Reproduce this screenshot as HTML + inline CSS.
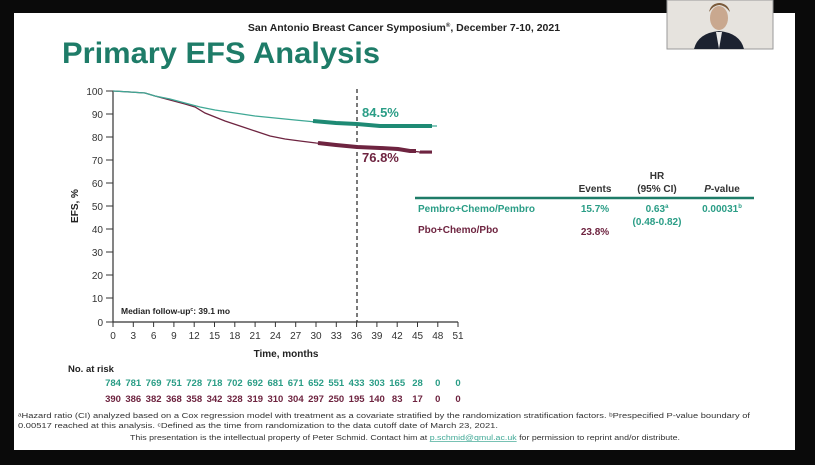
<!DOCTYPE html>
<html><head><meta charset="utf-8"><style>
body{margin:0;background:#000;width:815px;height:465px;overflow:hidden}
svg{display:block}
text{font-family:"Liberation Sans",Arial,sans-serif}
</style></head><body>
<svg width="815" height="465" viewBox="0 0 815 465">
<rect x="0" y="0" width="815" height="465" fill="#0a0a0a"/>
<rect x="14" y="13" width="781" height="437" fill="#fff"/>
<rect x="667" y="0" width="106" height="49" fill="#e6e3de" stroke="#999" stroke-width="1"/>
<ellipse cx="719" cy="18" rx="9" ry="12" fill="#c9a88f"/>
<path d="M709 12 q10 -14 21 0 q-2 -8 -10 -9 q-9 0 -11 9z" fill="#7a5a3a"/>
<path d="M694 49 q4 -16 25 -18 q21 2 25 18z" fill="#1c2230"/>
<path d="M716 32 l3 17 l3 -17z" fill="#e8e8e8"/>
<text x="404" y="31" font-size="10.5" font-weight="bold" text-anchor="middle" fill="#222">San Antonio Breast Cancer Symposium<tspan font-size="6" dy="-4">®</tspan><tspan dy="4">, December 7-10, 2021</tspan></text>
<text x="62" y="63" font-size="30" font-weight="bold" fill="#1e7c68" textLength="318" lengthAdjust="spacingAndGlyphs">Primary EFS Analysis</text>
<g stroke="#333" stroke-width="1.2" fill="none">
<line x1="113" y1="91" x2="113" y2="322"/>
<line x1="113" y1="322" x2="458" y2="322"/>
</g>
<g font-size="10" fill="#333" text-anchor="end">
<text x="103" y="95">100</text><text x="103" y="118">90</text><text x="103" y="141">80</text><text x="103" y="164">70</text><text x="103" y="187">60</text><text x="103" y="210">50</text><text x="103" y="233">40</text><text x="103" y="256">30</text><text x="103" y="279">20</text><text x="103" y="302">10</text><text x="103" y="326">0</text>
</g>
<g stroke="#333" stroke-width="1">
<line x1="106" y1="91" x2="113" y2="91"/><line x1="106" y1="114" x2="113" y2="114"/><line x1="106" y1="137" x2="113" y2="137"/><line x1="106" y1="160" x2="113" y2="160"/><line x1="106" y1="183" x2="113" y2="183"/><line x1="106" y1="206" x2="113" y2="206"/><line x1="106" y1="229" x2="113" y2="229"/><line x1="106" y1="252" x2="113" y2="252"/><line x1="106" y1="275" x2="113" y2="275"/><line x1="106" y1="298" x2="113" y2="298"/><line x1="106" y1="322" x2="113" y2="322"/>
</g>
<g stroke="#333" stroke-width="1">
<line x1="113" y1="322" x2="113" y2="327"/><line x1="133.3" y1="322" x2="133.3" y2="327"/><line x1="153.6" y1="322" x2="153.6" y2="327"/><line x1="173.9" y1="322" x2="173.9" y2="327"/><line x1="194.2" y1="322" x2="194.2" y2="327"/><line x1="214.5" y1="322" x2="214.5" y2="327"/><line x1="234.8" y1="322" x2="234.8" y2="327"/><line x1="255.1" y1="322" x2="255.1" y2="327"/><line x1="275.4" y1="322" x2="275.4" y2="327"/><line x1="295.7" y1="322" x2="295.7" y2="327"/><line x1="316" y1="322" x2="316" y2="327"/><line x1="336.3" y1="322" x2="336.3" y2="327"/><line x1="356.6" y1="322" x2="356.6" y2="327"/><line x1="376.9" y1="322" x2="376.9" y2="327"/><line x1="397.2" y1="322" x2="397.2" y2="327"/><line x1="417.5" y1="322" x2="417.5" y2="327"/><line x1="437.8" y1="322" x2="437.8" y2="327"/><line x1="458" y1="322" x2="458" y2="327"/>
</g>
<g font-size="10" fill="#333" text-anchor="middle">
<text x="113" y="339">0</text><text x="133.3" y="339">3</text><text x="153.6" y="339">6</text><text x="173.9" y="339">9</text><text x="194.2" y="339">12</text><text x="214.5" y="339">15</text><text x="234.8" y="339">18</text><text x="255.1" y="339">21</text><text x="275.4" y="339">24</text><text x="295.7" y="339">27</text><text x="316" y="339">30</text><text x="336.3" y="339">33</text><text x="356.6" y="339">36</text><text x="376.9" y="339">39</text><text x="397.2" y="339">42</text><text x="417.5" y="339">45</text><text x="437.8" y="339">48</text><text x="458" y="339">51</text>
</g>
<text x="286" y="357" font-size="10" font-weight="bold" text-anchor="middle" fill="#222">Time, months</text>
<text transform="translate(78 206) rotate(-90)" font-size="10" font-weight="bold" text-anchor="middle" fill="#222">EFS, %</text>
<line x1="357" y1="89" x2="357" y2="322" stroke="#222" stroke-width="1.2" stroke-dasharray="4,3"/>
<polyline fill="none" stroke="#6e2440" stroke-width="1.3" points="113,91 130,92 145,93 155,96 170,100 185,104 195,107 205,113 215,117 225,121 240,126 255,131 270,136 285,139 300,141 316,143 336,145 357,147 380,148 398,149 410,151 420,152 420,153 432,153"/>
<polyline fill="none" stroke="#6e2440" stroke-width="4" points="318,143 336,145 357,147 380,148 398,149 410,151 416,151"/>
<polyline fill="none" stroke="#6e2440" stroke-width="3" points="420,152 432,152"/>
<polyline fill="none" stroke="#3fa895" stroke-width="1.3" points="113,91 130,92 145,93 155,96 170,99 185,103 200,107 215,110 235,113 255,116 275,118 295,120 316,122 336,123 357,124 380,126 400,126 437,126"/>
<polyline fill="none" stroke="#1e8a74" stroke-width="4" points="313,121 336,123 357,124 380,126 400,126 432,126"/>
<text x="362" y="117" font-size="13" font-weight="bold" fill="#2a9d86">84.5%</text>
<text x="362" y="162" font-size="13" font-weight="bold" fill="#6e2440">76.8%</text>
<text x="121" y="314" font-size="8.5" font-weight="bold" fill="#222">Median follow-up<tspan font-size="5" dy="-3">c</tspan><tspan dy="3">: 39.1 mo</tspan></text>
<g font-size="10" font-weight="bold" text-anchor="middle" fill="#333">
<text x="595" y="192">Events</text>
<text x="657" y="179">HR</text>
<text x="657" y="192">(95% CI)</text>
<text x="722" y="192" font-style="italic">P<tspan font-style="normal">-value</tspan></text>
</g>
<line x1="415" y1="198" x2="754" y2="198" stroke="#1e7c68" stroke-width="2.5"/>
<g font-size="10" font-weight="bold" fill="#2a9d86">
<text x="418" y="212">Pembro+Chemo/Pembro</text>
<text x="595" y="212" text-anchor="middle">15.7%</text>
<text x="657" y="212" text-anchor="middle">0.63<tspan font-size="6" dy="-4">a</tspan></text>
<text x="657" y="225" text-anchor="middle">(0.48-0.82)</text>
<text x="722" y="212" text-anchor="middle">0.00031<tspan font-size="6" dy="-4">b</tspan></text>
</g>
<g font-size="10" font-weight="bold" fill="#6e2440">
<text x="418" y="233">Pbo+Chemo/Pbo</text>
<text x="595" y="235" text-anchor="middle">23.8%</text>
</g>
<text x="68" y="372" font-size="9.5" font-weight="bold" fill="#222">No. at risk</text>
<g font-size="9.5" font-weight="bold" fill="#2a9d86" text-anchor="middle">
<text x="113" y="386">784</text><text x="133.3" y="386">781</text><text x="153.6" y="386">769</text><text x="173.9" y="386">751</text><text x="194.2" y="386">728</text><text x="214.5" y="386">718</text><text x="234.8" y="386">702</text><text x="255.1" y="386">692</text><text x="275.4" y="386">681</text><text x="295.7" y="386">671</text><text x="316" y="386">652</text><text x="336.3" y="386">551</text><text x="356.6" y="386">433</text><text x="376.9" y="386">303</text><text x="397.2" y="386">165</text><text x="417.5" y="386">28</text><text x="437.8" y="386">0</text><text x="458" y="386">0</text>
</g>
<g font-size="9.5" font-weight="bold" fill="#6e2440" text-anchor="middle">
<text x="113" y="402">390</text><text x="133.3" y="402">386</text><text x="153.6" y="402">382</text><text x="173.9" y="402">368</text><text x="194.2" y="402">358</text><text x="214.5" y="402">342</text><text x="234.8" y="402">328</text><text x="255.1" y="402">319</text><text x="275.4" y="402">310</text><text x="295.7" y="402">304</text><text x="316" y="402">297</text><text x="336.3" y="402">250</text><text x="356.6" y="402">195</text><text x="376.9" y="402">140</text><text x="397.2" y="402">83</text><text x="417.5" y="402">17</text><text x="437.8" y="402">0</text><text x="458" y="402">0</text>
</g>
<g font-size="7" fill="#333">
<text x="18" y="418" textLength="732" lengthAdjust="spacingAndGlyphs">ᵃHazard ratio (CI) analyzed based on a Cox regression model with treatment as a covariate stratified by the randomization stratification factors. ᵇPrespecified P-value boundary of</text>
<text x="18" y="428" textLength="480" lengthAdjust="spacingAndGlyphs">0.00517 reached at this analysis. ᶜDefined as the time from randomization to the data cutoff date of March 23, 2021.</text>
<text x="130" y="440" textLength="550" lengthAdjust="spacingAndGlyphs">This presentation is the intellectual property of Peter Schmid. Contact him at <tspan fill="#3fa895" text-decoration="underline">p.schmid@qmul.ac.uk</tspan> for permission to reprint and/or distribute.</text>
</g>
</svg>
</body></html>
